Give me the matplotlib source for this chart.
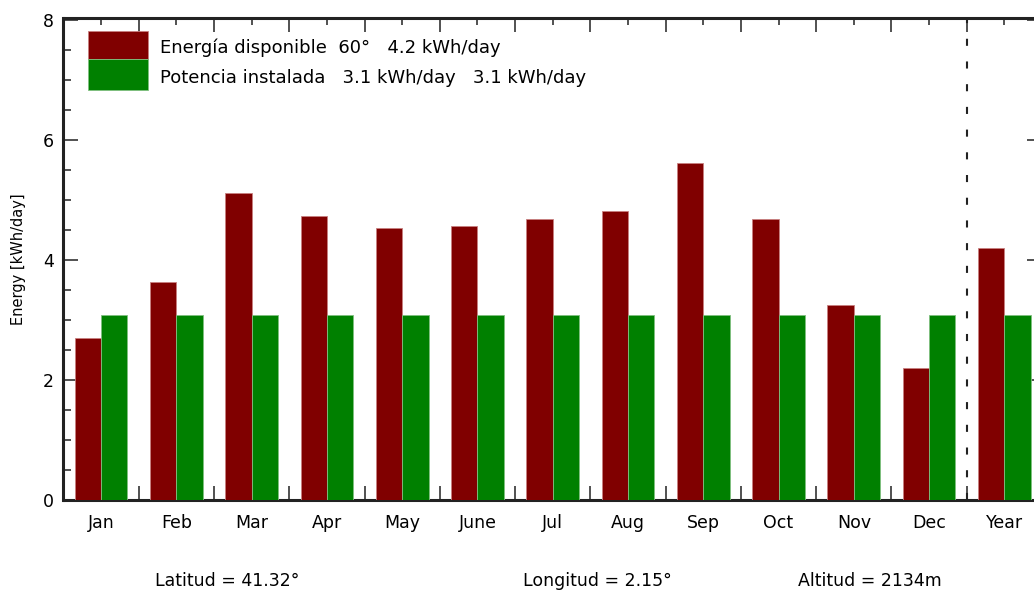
import numpy as np
import matplotlib.pyplot as plt
from matplotlib.patches import Rectangle
from matplotlib.ticker import MultipleLocator

months = ['Jan', 'Feb', 'Mar', 'Apr', 'May', 'June', 'Jul', 'Aug', 'Sep',
          'Oct', 'Nov', 'Dec', 'Year']
energia = [2.70, 3.63, 5.11, 4.73, 4.53, 4.56, 4.69, 4.82, 5.62, 4.68,
           3.25, 2.20, 4.20]
potencia = [3.08] * 13

label_e = 'Energía disponible  60°   4.2 kWh/day'
label_p = 'Potencia instalada   3.1 kWh/day   3.1 kWh/day'
site = ['Latitud = 41.32°', 'Longitud = 2.15°', 'Altitud = 2134m']

plt.rcParams.update({
    'font.family': 'DejaVu Sans',
    'font.size': 12.5,
    'xtick.direction': 'in',
    'ytick.direction': 'in',
})

red = '#800000'
green = '#008000'
dark = '#222222'

fig = plt.figure(figsize=(10.34, 5.95), dpi=100)
ax = fig.add_axes([63.5 / 1034, 95 / 595, (1042 - 63.5) / 1034, 482 / 595])

x = np.arange(len(months))
w = 0.35
ax.bar(x - w, energia, w, align='edge', color=red, edgecolor='#c88080',
       linewidth=0.6, zorder=3)
ax.bar(x, potencia, w, align='edge', color=green, edgecolor='#80c080',
       linewidth=0.6, zorder=3)

ax.axvline(11.5, color=dark, lw=1.5, linestyle=(0, (3.4, 7.5)), zorder=2)

ax.set_xlim(-0.5, 12.5)
ax.set_ylim(0, 8.033)

# month boundaries as major ticks, month centres carry the labels
ax.set_xticks(np.arange(-0.5, 13, 1), labels=[''] * 14)
ax.set_xticks(x, labels=months, minor=True)
ax.tick_params(axis='x', which='major', bottom=True, top=True, length=10,
               width=1.1, color=dark)
ax.tick_params(axis='x', which='minor', bottom=False, top=True,
               labelbottom=True, length=5, width=1.1, color=dark, pad=10)

ax.set_yticks([0, 2, 4, 6, 8])
ax.yaxis.set_minor_locator(MultipleLocator(0.5))
ax.tick_params(axis='y', which='major', left=True, right=True, length=11,
               width=1.1, color=dark, pad=7)
ax.tick_params(axis='y', which='minor', left=True, right=True, length=5.5,
               width=1.1, color=dark)

for s in ax.spines.values():
    s.set_linewidth(2.2)
    s.set_color(dark)

ax.set_ylabel('Energy [kWh/day]', fontsize=10.5, labelpad=12)

# legend: two stacked colour blocks with their texts
lx, lw_, ly = 0.025, 0.0613, 0.915
ax.add_patch(Rectangle((lx, ly), lw_, 0.059, transform=ax.transAxes,
                       facecolor=red, edgecolor='#c88080', lw=0.6, zorder=4))
ax.add_patch(Rectangle((lx, ly - 0.064), lw_, 0.064, transform=ax.transAxes,
                       facecolor=green, edgecolor='#80c080', lw=0.6, zorder=4))
ax.text(0.0986, 0.9378, label_e, transform=ax.transAxes, va='center',
        fontsize=13)
ax.text(0.0986, 0.8755, label_p, transform=ax.transAxes, va='center',
        fontsize=13)

for txt, xp in zip(site, [227.5, 597.5, 870]):
    fig.text(xp / 1034, 14 / 595, txt, ha='center', va='center', fontsize=12.5)

fig.savefig('out.png', dpi=100)
